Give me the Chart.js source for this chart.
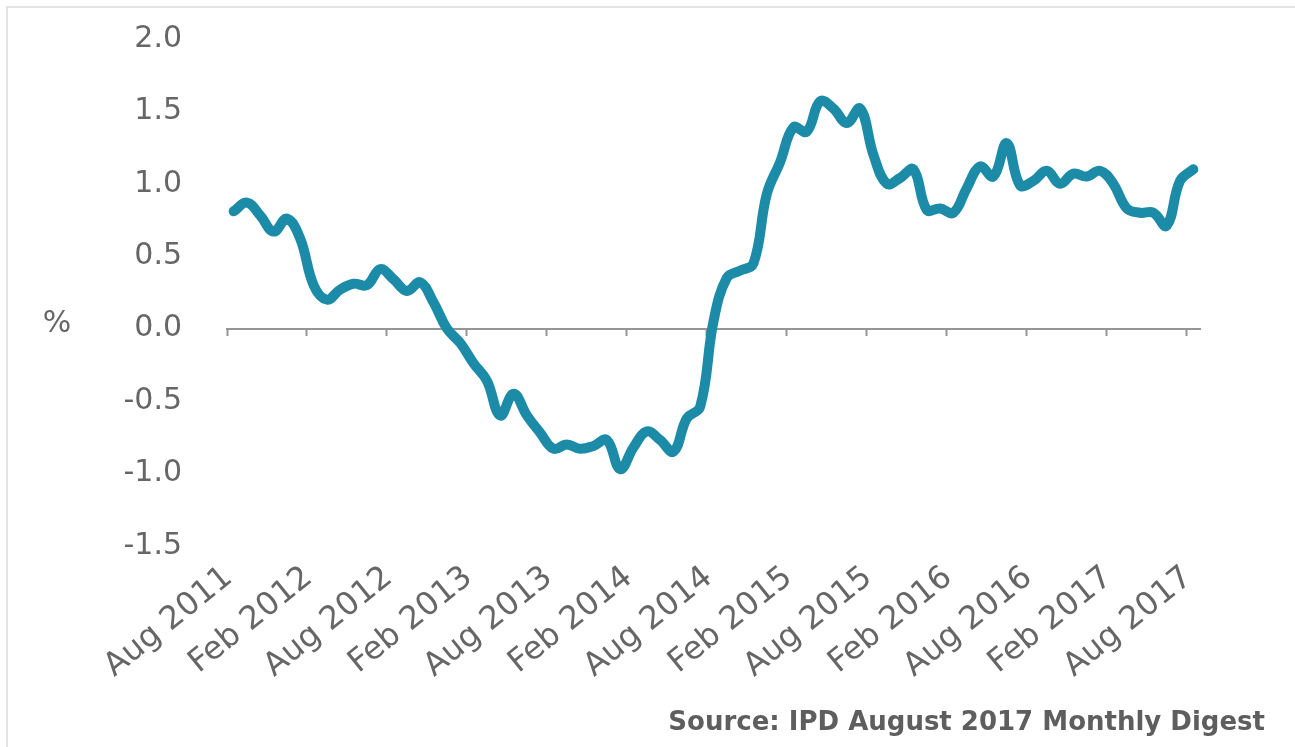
<!DOCTYPE html>
<html>
<head>
<meta charset="utf-8">
<style>
  html, body { margin: 0; padding: 0; background: #fff; }
  #wrap { position: relative; width: 1295px; height: 747px; overflow: hidden; }
  #frame { position: absolute; left: 6px; top: 6px; right: -4px; bottom: -4px;
           border-top: 2px solid #e3e3e3; border-left: 2px solid #e3e3e3; }
  canvas { position: absolute; left: 0; top: 0; }
</style>
<script src="https://cdn.jsdelivr.net/npm/chart.js@4/dist/chart.umd.min.js"></script>
</head>
<body>
<div id="wrap">
  <div id="frame"></div>
  <canvas id="chart" width="1295" height="747"></canvas>
</div>
<script>
// monthly series, Aug 2011 .. Aug 2017
const startYear = 2011;
const startMonth = 7; // August
const monthNames = ['Jan', 'Feb', 'Mar', 'Apr', 'May', 'Jun', 'Jul', 'Aug', 'Sep', 'Oct', 'Nov', 'Dec'];
const growth = [
  0.81, 0.87, 0.78, 0.67, 0.76, 0.62, 0.30, 0.20, 0.27, 0.31, 0.30, 0.41,
  0.34, 0.26, 0.32, 0.18, 0.00, -0.10, -0.24, -0.36, -0.60, -0.45, -0.60, -0.72,
  -0.83, -0.80, -0.83, -0.81, -0.77, -0.97, -0.82, -0.71, -0.77, -0.85, -0.62, -0.54,
  0.05, 0.35, 0.40, 0.45, 0.93, 1.15, 1.39, 1.36, 1.57, 1.52, 1.42, 1.52,
  1.20, 1.00, 1.04, 1.10, 0.82, 0.83, 0.80, 0.97, 1.12, 1.05, 1.28, 0.99,
  1.02, 1.09, 1.00, 1.07, 1.05, 1.09, 1.00, 0.83, 0.80, 0.80, 0.71, 1.02,
  1.10
];
const labelEvery = 6;
const yTicks = { min: -1.5, max: 2.0, step: 0.5 };
const sourceText = 'Source: IPD August 2017 Monthly Digest';

const months = growth.map((v, i) => {
  const m = startMonth + i;
  return monthNames[m % 12] + ' ' + (startYear + Math.floor(m / 12));
});

const grey = '#666666';

const percentLabel = {
  id: 'percentLabel',
  afterDraw(chart) {
    const { ctx, scales } = chart;
    ctx.save();
    ctx.fillStyle = grey;
    ctx.font = '30px "DejaVu Sans"';
    ctx.textAlign = 'center';
    ctx.textBaseline = 'middle';
    ctx.fillText('%', 57, scales.y.getPixelForValue(0) - 4);
    ctx.restore();
  }
};

new Chart(document.getElementById('chart'), {
  type: 'line',
  data: {
    labels: months,
    datasets: [{
      data: growth,
      borderColor: '#1b8ba7',
      borderWidth: 10,
      borderCapStyle: 'round',
      borderJoinStyle: 'round',
      tension: 0.4,
      pointRadius: 0,
      fill: false,
      xAxisID: 'x',
      yAxisID: 'y'
    }]
  },
  options: {
    responsive: false,
    animation: false,
    layout: { padding: { top: 39, right: 30, bottom: 0, left: 0 } },
    plugins: {
      legend: { display: false },
      tooltip: { enabled: false },
      title: {
        display: true,
        text: sourceText,
        position: 'bottom',
        align: 'end',
        color: '#5e5e5e',
        font: { family: 'DejaVu Sans', size: 26, weight: 'bold' },
        padding: { top: 0, bottom: 8 }
      }
    },
    scales: {
      x: {
        type: 'category',
        position: 'bottom',
        offset: true,
        grid: { display: false },
        border: { display: false },
        ticks: {
          autoSkip: false,
          minRotation: 39,
          maxRotation: 39,
          padding: 5,
          labelOffset: -5,
          color: grey,
          font: { family: 'DejaVu Sans', size: 32 },
          callback: (val, i) => (i % labelEvery === 0 ? months[i] : null)
        },
        afterFit: s => { s.height = 162; s.paddingLeft = 0; s.paddingRight = 0; }
      },
      xZero: {
        type: 'category',
        labels: months,
        position: { y: 0 },
        offset: true,
        grid: {
          offset: true,
          drawOnChartArea: false,
          drawTicks: true,
          tickLength: 6,
          tickWidth: 2,
          tickColor: c => (c.type === 'tick' && c.index % labelEvery === 0 ? '#959595' : 'rgba(0,0,0,0)')
        },
        border: { display: true, color: '#959595', width: 2 },
        ticks: { display: false }
      },
      y: {
        position: 'left',
        min: yTicks.min,
        max: yTicks.max,
        grid: { display: false },
        border: { display: false },
        ticks: {
          stepSize: yTicks.step,
          padding: 37,
          color: grey,
          font: { family: 'DejaVu Sans', size: 30 },
          callback: v => v.toFixed(1)
        },
        afterFit: s => { s.width = 227; s.paddingTop = 0; s.paddingBottom = 0; }
      },
      yRight: {
        position: 'right',
        grid: { display: false },
        border: { display: false },
        ticks: { display: false },
        afterFit: s => { s.width = 65; }
      }
    }
  },
  plugins: [percentLabel]
});
</script>
</body>
</html>
